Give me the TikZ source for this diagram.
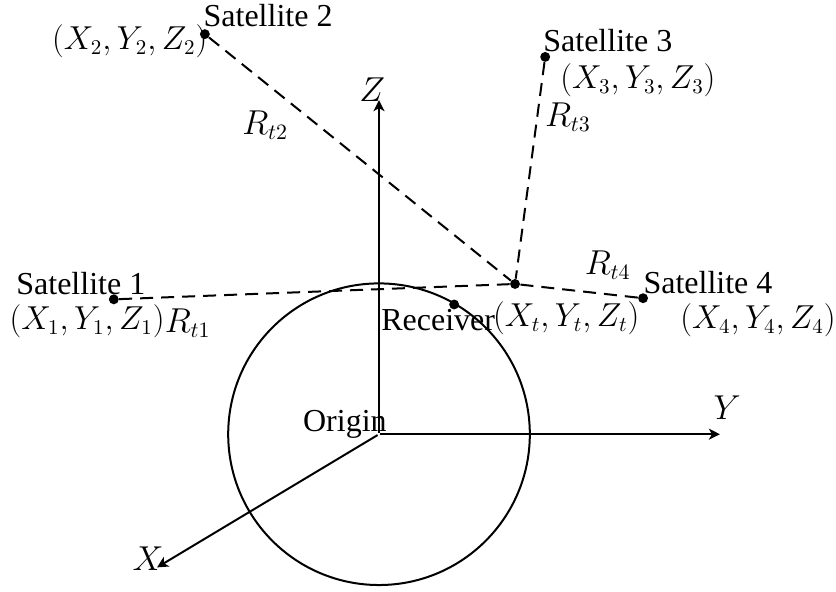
\documentclass[tikz,border=0pt]{standalone}
\usepackage{amsmath,amssymb}
\usepackage[no-math]{fontspec}
\setmainfont{Liberation Serif}
\usepackage{xcolor}
\usetikzlibrary{arrows.meta}
\tikzset{
  axisline/.style={line width=1pt,-{Stealth[length=5.5pt,width=5.5pt,inset=1.5pt]}},
  rangeline/.style={line width=1pt,dash pattern=on 6.5pt off 4pt},
  vertex/.style={circle,fill=black,inner sep=1.75pt},
  tag/.style={inner sep=0pt,font=\fontsize{16}{19}\selectfont},
  postag/.style={tag,scale=0.96},
}

\begin{document}
\begin{tikzpicture}
  \useasboundingbox (-6.66,-2.76) rectangle (8.03,7.63);
  \node[inner sep=0pt] (origin) at (0,0) {};
  \draw[line width=1pt] (origin) circle (2.65);
  \coordinate (xend) at (-3.9,-2.34);
  \coordinate (yend) at (5.99,0);
  \coordinate (zend) at (0,5.87);
  \draw[axisline] (origin) -- (xend);
  \draw[axisline] (origin) -- (yend);
  \draw[axisline] (origin) -- (zend);
  \node[vertex] (sat1) at (-4.66,2.37) {};
  \node[vertex] (sat2) at (-3.06,7.03) {};
  \node[vertex] (sat3) at (2.92,6.63) {};
  \node[vertex] (sat4) at (4.64,2.39) {};
  \node[vertex] (rec) at (2.39,2.64) {};
  \node[vertex] (surf) at (1.32,2.28) {};
  \draw[rangeline] (sat1) -- (rec);
  \draw[rangeline] (sat2) -- (rec);
  \draw[rangeline] (sat3) -- (rec);
  \draw[rangeline] (sat4) -- (rec);
  \node[tag] (lsat1) at (-5.24,2.65) {Satellite 1};
  \node[tag] (lsat2) at (-1.95,7.35) {Satellite 2};
  \node[tag] (lsat3) at (4.02,6.92) {Satellite 3};
  \node[tag] (lsat4) at (5.78,2.67) {Satellite 4};
  \node[postag] (pos1) at (-5.13,1.99) {$(X_1,Y_1,Z_1)$};
  \node[postag] (pos2) at (-4.38,6.91) {$(X_2,Y_2,Z_2)$};
  \node[postag] (pos3) at (4.55,6.22) {$(X_3,Y_3,Z_3)$};
  \node[postag] (pos4) at (6.66,2.0) {$(X_4,Y_4,Z_4)$};
  \node[postag] (post) at (3.29,2.04) {$(X_t,Y_t,Z_t)$};
  \node[tag] (rt1) at (-3.36,1.95) {$R_{t1}$};
  \node[tag] (rt2) at (-2.0,5.43) {$R_{t2}$};
  \node[tag] (rt3) at (3.32,5.57) {$R_{t3}$};
  \node[tag] (rt4) at (4.02,2.97) {$R_{t4}$};
  \node[tag] (lrec) at (1.04,2.0) {Receiver};
  \node[tag] (lorig) at (-0.6,0.18) {Origin};
  \node[tag] (lx) at (-4.06,-2.18) {$X$};
  \node[tag] (ly) at (6.12,0.46) {$Y$};
  \node[tag] (lz) at (-0.12,6.06) {$Z$};
\end{tikzpicture}
\end{document}
